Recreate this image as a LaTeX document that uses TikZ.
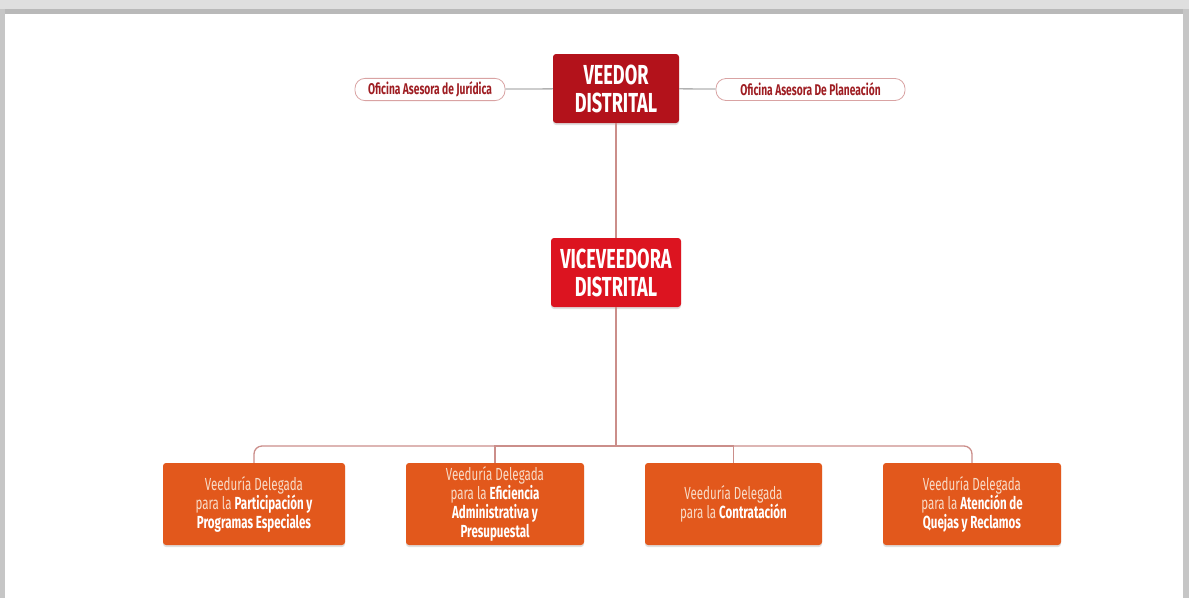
\documentclass[tikz,border=0pt]{standalone}
\usepackage{fontspec}
\newfontfamily\cond{Fira Sans}[FakeStretch=0.66]
\usetikzlibrary{positioning,shadows}
\definecolor{veedorred}{HTML}{B3121B}
\definecolor{vicered}{HTML}{DC1420}
\definecolor{delorange}{HTML}{E2581C}
\definecolor{pillred}{HTML}{9E1D22}
\definecolor{pillline}{HTML}{D9A3A3}
\definecolor{connline}{HTML}{CB8E8A}
\definecolor{lighttext}{HTML}{F8DCC8}

\begin{document}
\begin{tikzpicture}[x=1pt,y=-1pt,
	chief/.style={rounded corners=3pt, minimum width=126pt, minimum height=69pt, align=center,
		text=white, font=\cond\bfseries\fontsize{27.5}{28}\selectfont,
		drop shadow={opacity=0.25, shadow xshift=0pt, shadow yshift=-2pt}},
	pill/.style={draw=pillline, line width=0.8pt, rounded corners=10pt, minimum width=150pt,
		minimum height=22pt, text=pillred, font=\cond\bfseries\fontsize{15.5}{17}\selectfont},
	delbox/.style={fill=delorange, rounded corners=3pt, minimum width=180pt, minimum height=82pt,
		align=center, text=lighttext, font=\cond\fontsize{17.5}{19}\selectfont, inner sep=2pt,
		drop shadow={opacity=0.25, shadow xshift=0pt, shadow yshift=-2pt}},
	conn/.style={draw=connline, line width=1.3pt},
	]
	%Rahmen
	\useasboundingbox (0,0) rectangle (1189,598);
	\fill[gray!25] (0,0) rectangle (1189,9);
	\fill[gray!55] (0,9) rectangle (1189,14);
	\fill[gray!45] (0,9) rectangle (5,598);
	\fill[gray!45] (1183,9) rectangle (1189,598);

	%Leitung
	\node[chief, fill=veedorred] (veedor) at (616,88.5) {VEEDOR\\DISTRITAL};
	\node[pill] (juridica) at (430,89.5) {Oficina Asesora de Jurídica};
	\node[pill, minimum width=189pt] (planeacion) at (810.5,89.5) {Oficina Asesora De Planeación};
	\node[chief, fill=vicered, minimum width=130pt] (vice) at (616,272.5) {VICEVEEDORA\\DISTRITAL};

	%Delegadas
	\node[delbox, minimum width=182pt] (particip) at (254,504)
		{Veeduría Delegada\\para la \textcolor{white}{\bfseries Participación y}\\\textcolor{white}{\bfseries Programas Especiales}};
	\node[delbox, minimum width=178pt] (eficiencia) at (495,504)
		{Veeduría Delegada\\para la \textcolor{white}{\bfseries Eficiencia}\\\textcolor{white}{\bfseries Administrativa y}\\\textcolor{white}{\bfseries Presupuestal}};
	\node[delbox, minimum width=177pt] (contrat) at (733.5,504)
		{Veeduría Delegada\\para la \textcolor{white}{\bfseries Contratación}};
	\node[delbox, minimum width=178pt] (quejas) at (972,504)
		{Veeduría Delegada\\para la \textcolor{white}{\bfseries Atención de}\\\textcolor{white}{\bfseries Quejas y Reclamos}};

	%Verbindungen
	\coordinate (bus) at (616,446);
	\draw[conn, draw=gray!60] (juridica) -- (veedor);
	\draw[conn, draw=gray!60] (veedor) -- (planeacion);
	\draw[conn] (veedor) -- (vice);
	\draw[conn] (vice) -- (bus);
	\draw[conn, rounded corners=8pt] (bus) -| (particip.north);
	\draw[conn] (bus) -| (eficiencia.north);
	\draw[conn] (bus) -| (contrat.north);
	\draw[conn, rounded corners=8pt] (bus) -| (quejas.north);
\end{tikzpicture}
\end{document}
